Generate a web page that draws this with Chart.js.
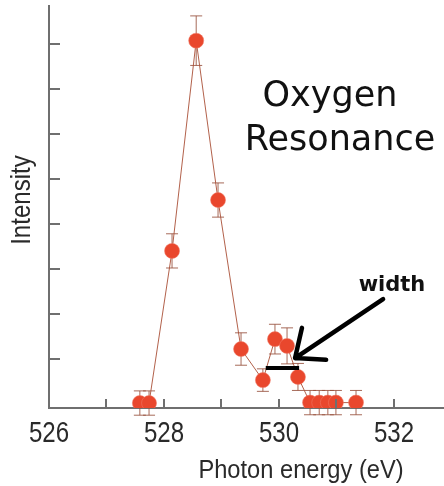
<!DOCTYPE html>
<html>
<head>
<meta charset="utf-8">
<script src="https://cdn.jsdelivr.net/npm/chart.js@4.4.1/dist/chart.umd.min.js"></script>
<style>
  html, body { margin: 0; padding: 0; background: #ffffff; }
  canvas { display: block; }
</style>
</head>
<body>
<canvas id="chart" width="444" height="486"></canvas>
<script>
// Oxygen resonance scan: intensity vs photon energy
const energies    = [527.58, 527.74, 528.14, 528.56, 528.94, 529.34, 529.72, 529.93, 530.14, 530.33, 530.54, 530.70, 530.85, 530.99, 531.34];
const intensities = [0.02, 0.02, 3.40, 8.07, 4.53, 1.22, 0.53, 1.44, 1.29, 0.60, 0.03, 0.03, 0.03, 0.03, 0.03];
const errors      = [0.27, 0.27, 0.38, 0.55, 0.38, 0.36, 0.25, 0.33, 0.40, 0.30, 0.27, 0.27, 0.27, 0.27, 0.27];

const xTickValues = [526, 527, 528, 529, 530, 531, 532];
const xTickLabels = ['526', '', '528', '', '530', '', '532'];
const yTickValues = [1, 2, 3, 4, 5, 6, 7, 8];

const xTitle = 'Photon energy (eV)';
const yTitle = 'Intensity';
const headline = ['Oxygen', 'Resonance'];
const widthLabel = 'width';

// half-maximum bar and the arrow pointing at it, in axis units
const widthBar = { from: 529.77, to: 530.35, level: 0.80 };
const arrowTail = [531.81, 2.33];
const arrowTip = [530.28, 1.02];
const arrowHeadUp = [530.40, 1.69];
const arrowHeadSide = [530.82, 0.98];

const SANS = "'Liberation Sans', Arial, sans-serif";
const AXIS_GREY = '#6f6f6f';
const TEXT_GREY = '#2a2a2a';

const points = energies.map((e, i) => ({ x: e, y: intensities[i] }));

// condensed text: regular sans squeezed horizontally
function condensedText(ctx, text, x, y, size, squeeze, rotate) {
  ctx.save();
  ctx.translate(x, y);
  if (rotate) ctx.rotate(rotate);
  ctx.scale(squeeze, 1);
  ctx.font = size + 'px ' + SANS;
  ctx.textAlign = 'center';
  ctx.textBaseline = 'alphabetic';
  ctx.fillText(text, 0, 0);
  ctx.restore();
}

const errorBars = {
  id: 'errorBars',
  beforeDatasetsDraw(chart) {
    const { ctx, scales: { x, y } } = chart;
    ctx.save();
    ctx.strokeStyle = 'rgba(150, 80, 60, 0.85)';
    ctx.lineWidth = 1;
    energies.forEach((e, i) => {
      const px = x.getPixelForValue(e);
      const top = y.getPixelForValue(intensities[i] + errors[i]);
      const bot = y.getPixelForValue(intensities[i] - errors[i]);
      ctx.beginPath();
      ctx.moveTo(px, top); ctx.lineTo(px, bot);
      ctx.moveTo(px - 6, top); ctx.lineTo(px + 6, top);
      ctx.moveTo(px - 6, bot); ctx.lineTo(px + 6, bot);
      ctx.stroke();
    });
    ctx.restore();
  }
};

const axisDecor = {
  id: 'axisDecor',
  afterDraw(chart) {
    const { ctx, chartArea, scales: { x, y } } = chart;
    ctx.save();
    // tick marks point into the plot
    ctx.strokeStyle = AXIS_GREY;
    ctx.lineWidth = 2;
    ctx.beginPath();
    yTickValues.forEach(v => {
      const py = Math.round(y.getPixelForValue(v));
      ctx.moveTo(chartArea.left, py); ctx.lineTo(chartArea.left + 11, py);
    });
    xTickValues.forEach(v => {
      const px = Math.round(x.getPixelForValue(v));
      ctx.moveTo(px, chartArea.bottom); ctx.lineTo(px, chartArea.bottom - 9);
    });
    ctx.stroke();

    // tick labels and axis titles
    ctx.fillStyle = TEXT_GREY;
    xTickValues.forEach((v, i) => {
      if (xTickLabels[i]) condensedText(ctx, xTickLabels[i], x.getPixelForValue(v), chartArea.bottom + 34, 29, 0.83);
    });
    condensedText(ctx, xTitle, 301, 478, 26, 0.91);
    condensedText(ctx, yTitle, 30, 200, 28, 0.86, -Math.PI / 2);
    ctx.restore();
  }
};

const annotations = {
  id: 'annotations',
  afterDraw(chart) {
    const { ctx, scales: { x, y } } = chart;
    const P = (pt) => [x.getPixelForValue(pt[0]), y.getPixelForValue(pt[1])];
    ctx.save();
    ctx.textAlign = 'center';
    ctx.textBaseline = 'alphabetic';

    // headline
    ctx.fillStyle = '#111111';
    ctx.font = '35px "DejaVu Sans", sans-serif';
    ctx.fillText(headline[0], 330, 106);
    ctx.fillText(headline[1], 340, 150);

    // width label, bar and arrow
    ctx.font = 'bold 21px "DejaVu Sans", sans-serif';
    ctx.fillText(widthLabel, 392, 291);

    ctx.strokeStyle = '#000000';
    ctx.lineWidth = 4;
    ctx.lineCap = 'butt';
    const wy = y.getPixelForValue(widthBar.level);
    ctx.beginPath();
    ctx.moveTo(x.getPixelForValue(widthBar.from), wy);
    ctx.lineTo(x.getPixelForValue(widthBar.to), wy);
    ctx.stroke();

    const tail = P(arrowTail), tip = P(arrowTip), hu = P(arrowHeadUp), hs = P(arrowHeadSide);
    ctx.lineWidth = 4.5;
    ctx.lineCap = 'round';
    ctx.lineJoin = 'round';
    ctx.beginPath();
    ctx.moveTo(tail[0], tail[1]); ctx.lineTo(tip[0], tip[1]);
    ctx.moveTo(hu[0], hu[1]); ctx.lineTo(tip[0], tip[1]); ctx.lineTo(hs[0], hs[1]);
    ctx.stroke();
    ctx.restore();
  }
};

new Chart(document.getElementById('chart'), {
  type: 'scatter',
  data: {
    datasets: [{
      data: points,
      showLine: true,
      borderColor: 'rgba(170, 80, 55, 0.9)',
      borderWidth: 1,
      pointRadius: 7.5,
      pointHoverRadius: 7.5,
      pointBackgroundColor: '#e9472d',
      pointBorderColor: 'rgba(240, 120, 100, 0.55)',
      pointBorderWidth: 1,
      tension: 0
    }]
  },
  options: {
    responsive: false,
    animation: false,
    devicePixelRatio: 1,
    layout: { autoPadding: false, padding: { top: 6, right: 0, left: 0, bottom: 0 } },
    plugins: { legend: { display: false }, tooltip: { enabled: false } },
    scales: {
      x: {
        type: 'linear',
        min: 526,
        max: 532.87,
        afterFit: s => { s.height = 78; s.paddingLeft = 0; s.paddingRight = 0; },
        afterBuildTicks: s => { s.ticks = xTickValues.map(v => ({ value: v })); },
        ticks: { display: false },
        grid: { display: false, drawTicks: false },
        border: { display: true, color: AXIS_GREY, width: 2 }
      },
      y: {
        type: 'linear',
        min: -0.09,
        max: 8.84,
        afterFit: s => { s.width = 49; s.paddingTop = 0; s.paddingBottom = 0; },
        ticks: { display: false },
        grid: { display: false, drawTicks: false },
        border: { display: true, color: AXIS_GREY, width: 2 }
      }
    }
  },
  plugins: [errorBars, axisDecor, annotations]
});
</script>
</body>
</html>
